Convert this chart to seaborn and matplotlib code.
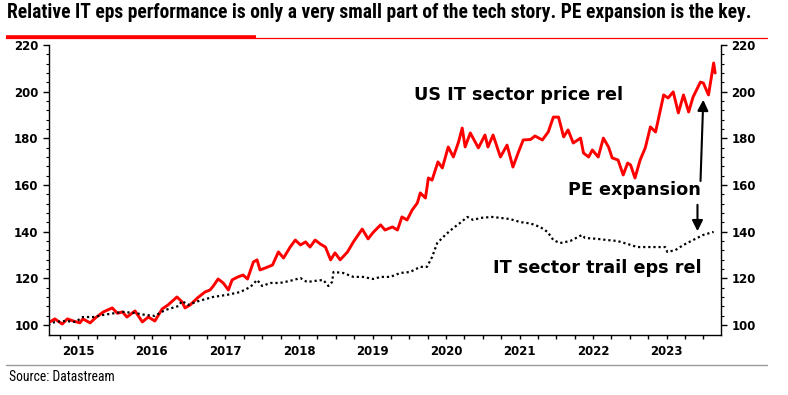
import matplotlib
matplotlib.use("Agg")
import matplotlib.pyplot as plt
import numpy as np
import pandas as pd
import seaborn as sns

# US IT sector price relative (decimal year, index)
price_years = [2015.09, 2015.18, 2015.28, 2015.35, 2015.43, 2015.52, 2015.56, 2015.66, 2015.73, 2015.84,
               2015.96, 2016.03, 2016.10, 2016.16, 2016.27, 2016.37, 2016.45, 2016.54, 2016.64, 2016.72,
               2016.84, 2016.91, 2016.95, 2017.02, 2017.12, 2017.22, 2017.29, 2017.33, 2017.40, 2017.47,
               2017.54, 2017.59, 2017.67, 2017.74, 2017.80, 2017.88, 2017.93, 2017.97, 2018.04, 2018.14,
               2018.22, 2018.29, 2018.38, 2018.45, 2018.52, 2018.59, 2018.65, 2018.72, 2018.79, 2018.86,
               2018.93, 2018.99, 2019.06, 2019.16, 2019.24, 2019.36, 2019.44, 2019.51, 2019.61, 2019.67,
               2019.77, 2019.84, 2019.90, 2019.97, 2020.04, 2020.11, 2020.15, 2020.22, 2020.26, 2020.31,
               2020.39, 2020.45, 2020.53, 2020.60, 2020.67, 2020.72, 2020.76, 2020.83, 2020.94, 2021.03,
               2021.07, 2021.14, 2021.24, 2021.33, 2021.41, 2021.48, 2021.55, 2021.65, 2021.71, 2021.81,
               2021.89, 2021.96, 2022.03, 2022.10, 2022.16, 2022.23, 2022.33, 2022.37, 2022.44, 2022.49,
               2022.57, 2022.64, 2022.71, 2022.76, 2022.84, 2022.91, 2022.97, 2023.01, 2023.07, 2023.14,
               2023.21, 2023.28, 2023.35, 2023.46, 2023.52, 2023.59, 2023.66, 2023.73, 2023.80, 2023.86,
               2023.96, 2024.00, 2024.07, 2024.14, 2024.16]
price_rel = [100.9, 102.6, 100.4, 102.6, 101.7, 100.9, 102.6, 100.9, 103.0, 105.6,
             107.3, 105.0, 105.6, 103.4, 106.0, 101.3, 103.4, 101.7, 106.9, 108.6,
             112.0, 109.9, 107.3, 108.6, 111.6, 114.1, 115.0, 116.5, 119.7, 118.0,
             115.0, 119.3, 120.6, 121.4, 119.7, 127.0, 127.9, 123.6, 124.4, 125.7,
             131.3, 128.7, 133.4, 136.4, 134.3, 135.6, 133.4, 136.4, 134.7, 133.4,
             127.9, 130.9, 127.9, 131.3, 135.6, 141.1, 136.9, 139.7, 142.9, 140.7,
             142.0, 140.7, 146.3, 145.0, 149.3, 152.3, 156.6, 154.4, 163.0, 162.1,
             169.9, 167.3, 176.3, 172.0, 178.4, 184.4, 176.3, 182.3, 175.9, 181.4,
             176.3, 181.4, 172.0, 177.1, 167.7, 173.7, 179.3, 179.5, 181.0, 179.3,
             182.7, 189.1, 189.1, 180.6, 183.6, 178.0, 180.1, 173.7, 172.0, 175.0,
             172.0, 180.1, 176.3, 171.6, 170.7, 164.3, 169.4, 168.6, 163.0, 170.7,
             175.9, 184.9, 182.7, 198.6, 197.3, 199.9, 190.9, 198.6, 191.3, 197.7,
             204.1, 203.7, 198.6, 212.3, 208.0]

# IT sector trailing eps relative (decimal year, index)
eps_years = [2015.09, 2015.18, 2015.32, 2015.46, 2015.56, 2015.70, 2015.84, 2016.00, 2016.11, 2016.27,
             2016.41, 2016.54, 2016.68, 2016.86, 2016.91, 2016.99, 2017.13, 2017.33, 2017.52, 2017.70,
             2017.84, 2017.93, 2018.00, 2018.11, 2018.24, 2018.38, 2018.52, 2018.61, 2018.72, 2018.83,
             2018.90, 2018.95, 2018.97, 2019.10, 2019.24, 2019.37, 2019.51, 2019.61, 2019.74, 2019.88,
             2020.01, 2020.15, 2020.24, 2020.31, 2020.38, 2020.49, 2020.60, 2020.69, 2020.79, 2020.87,
             2020.97, 2021.13, 2021.24, 2021.37, 2021.51, 2021.65, 2021.78, 2021.88, 2021.96, 2022.05,
             2022.19, 2022.35, 2022.39, 2022.56, 2022.69, 2022.83, 2022.97, 2023.10, 2023.24, 2023.41,
             2023.48, 2023.51, 2023.62, 2023.73, 2023.86, 2024.00, 2024.14]
eps_rel = [100.0, 101.3, 101.7, 101.3, 103.4, 103.4, 104.3, 105.1, 105.6, 105.1,
           104.3, 103.9, 106.4, 108.1, 110.3, 108.6, 110.2, 112.0, 112.9, 114.1,
           116.3, 119.3, 116.7, 118.0, 118.0, 118.9, 120.1, 118.4, 118.9, 119.3,
           116.7, 118.4, 122.7, 122.3, 120.6, 120.6, 119.7, 120.6, 120.6, 122.3,
           122.7, 124.9, 124.9, 129.1, 135.1, 138.6, 141.6, 143.7, 146.3, 145.0,
           145.9, 146.3, 145.9, 145.4, 144.1, 143.5, 142.0, 139.9, 136.4, 135.1,
           136.0, 138.6, 137.3, 136.9, 136.4, 136.0, 134.7, 133.4, 133.4, 133.4,
           133.4, 131.3, 132.1, 134.3, 136.4, 138.6, 139.9]

year_labels = ['2015', '2016', '2017', '2018', '2019', '2020', '2021', '2022', '2023']
title = ('Relative IT eps performance is only a very small part of the tech story. '
         'PE expansion is the key.')

sns.set_style('ticks')
plt.rcParams['font.family'] = ['DejaVu Sans']
plt.rcParams['font.weight'] = 'bold'
plt.rcParams['xtick.color'] = 'black'
plt.rcParams['ytick.color'] = 'black'
plt.rcParams['xtick.labelcolor'] = 'black'
plt.rcParams['ytick.labelcolor'] = 'black'

fig = plt.figure(figsize=(7.88, 3.95), dpi=100)
ax = fig.add_axes([49 / 788, 1 - 335 / 395, (721 - 49) / 788, (335 - 45) / 395])

sns.lineplot(x=price_years, y=price_rel, ax=ax, color='#ff0000', linewidth=2.1)
sns.lineplot(x=eps_years, y=eps_rel, ax=ax, color='black', linewidth=1.6,
             linestyle=(0, (1, 1.3)))

ax.set_xlim(2015.10, 2024.24)
ax.set_ylim(95.7, 220)

# year labels on mid-year major ticks, quarterly minor ticks
ax.set_xticks([int(y) + 0.5 for y in year_labels], labels=year_labels)
ax.set_xticks(np.arange(2015.25, 2024.01, 0.25), minor=True)
ax.tick_params(axis='x', which='both', length=3, width=1, direction='out')
ax.tick_params(axis='x', which='major', pad=4, labelsize=8.5)

ax.set_yticks(np.arange(100, 221, 20))
ax.set_yticks(np.arange(100, 221, 4), minor=True)
ax.tick_params(axis='y', which='major', length=4, width=1, left=True, right=True,
               labelleft=True, labelright=True, labelsize=8.5)
ax.tick_params(axis='y', which='minor', length=2.5, width=0.8, left=True, right=True)

for tick in ax.xaxis.get_major_ticks() + ax.yaxis.get_major_ticks():
    for lab in (tick.label1, tick.label2):
        lab.set_family('DejaVu Sans')
        lab.set_fontweight('bold')

ax.spines['top'].set_visible(False)
for s in ['left', 'right', 'bottom']:
    ax.spines[s].set_visible(True)
    ax.spines[s].set_linewidth(1.0)
    ax.spines[s].set_color('black')
ax.set_xlabel('')
ax.set_ylabel('')

ax.text(2021.48, 198.6, 'US IT sector price rel', ha='center', va='center',
        fontsize=12.7, color='black')
ax.text(2023.06, 157.9, 'PE expansion', ha='center', va='center',
        fontsize=12.7, color='black')
ax.text(2022.56, 124.4, 'IT sector trail eps rel', ha='center', va='center',
        fontsize=12.7, color='black')
ax.annotate('', xy=(2024.00, 197.7), xytext=(2023.96, 160.5),
            arrowprops=dict(arrowstyle='-|>', color='black', lw=1.5, mutation_scale=16))
ax.annotate('', xy=(2023.92, 139.0), xytext=(2023.92, 152.7),
            arrowprops=dict(arrowstyle='-|>', color='black', lw=1.5, mutation_scale=16))

fig.add_artist(plt.Line2D([6 / 788, 767 / 788], [1 - 37.5 / 395] * 2, color='#ff0000', lw=0.9))
fig.add_artist(plt.Line2D([6 / 788, 256 / 788], [1 - 36.5 / 395] * 2, color='#ff0000', lw=2.6,
                          solid_capstyle='butt'))
fig.add_artist(plt.Line2D([6 / 788, 767 / 788], [1 - 365 / 395] * 2, color='#999999', lw=1.0))

# header and footer, narrow font fitted to the reference width
narrow = ['Roboto Condensed', 'Liberation Sans', 'DejaVu Sans']
title_txt = fig.text(7 / 788, 1 - 13 / 395, title, ha='left', va='center', fontsize=12,
                     family=narrow, fontweight='bold', color='black')
source_txt = fig.text(9 / 788, 1 - 377 / 395, 'Source: Datastream', ha='left', va='center',
                      fontsize=9, family=narrow, fontweight='normal', color='black')
fig.canvas.draw()
renderer = fig.canvas.get_renderer()
for t, width_px in [(title_txt, 745), (source_txt, 107)]:
    w = t.get_window_extent(renderer).width
    t.set_fontsize(t.get_fontsize() * width_px / w)

fig.savefig('out.png', dpi=100)
